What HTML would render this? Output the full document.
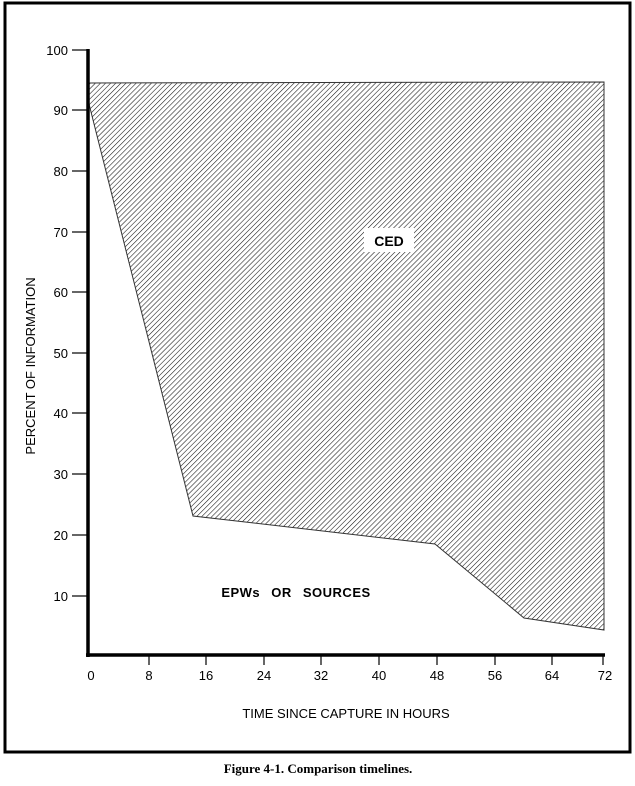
<!DOCTYPE html>
<html><head><style>
body{margin:0;background:#fff;width:635px;height:781px;overflow:hidden;font-family:"Liberation Sans",Arial,sans-serif}
</style></head><body>
<svg width="635" height="781" viewBox="0 0 635 781" xmlns="http://www.w3.org/2000/svg">
<defs>
<pattern id="h" patternUnits="userSpaceOnUse" width="3.6" height="4" patternTransform="rotate(45)">
<line x1="0" y1="0" x2="0" y2="4" stroke="#111" stroke-width="1.1"/>
</pattern>
</defs>
<rect x="5" y="3" width="625" height="749" fill="none" stroke="#000" stroke-width="3"/>
<polygon points="88,83 604,82 604,630 524,618 435,544 193,516 88,100" fill="url(#h)" stroke="#333" stroke-width="1"/>
<rect x="364" y="228" width="50" height="24" fill="#fff"/>
<text x="389" y="246" font-size="14" font-weight="bold" text-anchor="middle">CED</text>
<text x="296" y="597" font-size="13" font-weight="bold" text-anchor="middle" letter-spacing="0.5" word-spacing="7">EPWs OR SOURCES</text>
<line x1="88" y1="49" x2="88" y2="657" stroke="#000" stroke-width="3.5"/>
<line x1="86" y1="655" x2="605" y2="655" stroke="#000" stroke-width="3.5"/>
<g stroke="#000" stroke-width="1.2">
<line x1="72" y1="50" x2="88" y2="50"/><line x1="72" y1="110" x2="88" y2="110"/>
<line x1="72" y1="171" x2="88" y2="171"/><line x1="72" y1="232" x2="88" y2="232"/>
<line x1="72" y1="292" x2="88" y2="292"/><line x1="72" y1="353" x2="88" y2="353"/>
<line x1="72" y1="413" x2="88" y2="413"/><line x1="72" y1="474" x2="88" y2="474"/>
<line x1="72" y1="535" x2="88" y2="535"/><line x1="72" y1="596" x2="88" y2="596"/>
<line x1="149" y1="655" x2="149" y2="665"/><line x1="206" y1="655" x2="206" y2="665"/>
<line x1="264" y1="655" x2="264" y2="665"/><line x1="321" y1="655" x2="321" y2="665"/>
<line x1="379" y1="655" x2="379" y2="665"/><line x1="437" y1="655" x2="437" y2="665"/>
<line x1="495" y1="655" x2="495" y2="665"/><line x1="552" y1="655" x2="552" y2="665"/>
<line x1="603" y1="655" x2="603" y2="665"/>
</g>
<g font-size="13" text-anchor="end">
<text x="68" y="55">100</text><text x="68" y="115">90</text><text x="68" y="176">80</text>
<text x="68" y="237">70</text><text x="68" y="297">60</text><text x="68" y="358">50</text>
<text x="68" y="418">40</text><text x="68" y="479">30</text><text x="68" y="540">20</text>
<text x="68" y="601">10</text>
</g>
<g font-size="13" text-anchor="middle">
<text x="91" y="680">0</text><text x="149" y="680">8</text><text x="206" y="680">16</text>
<text x="264" y="680">24</text><text x="321" y="680">32</text><text x="379" y="680">40</text>
<text x="437" y="680">48</text><text x="495" y="680">56</text><text x="552" y="680">64</text>
<text x="605" y="680">72</text>
</g>
<text x="346" y="718" font-size="13" text-anchor="middle">TIME SINCE CAPTURE IN HOURS</text>
<text transform="translate(35,366) rotate(-90)" font-size="13" text-anchor="middle">PERCENT OF INFORMATION</text>
<text x="318" y="773" font-size="13" font-weight="bold" text-anchor="middle" font-family="Liberation Serif,serif">Figure 4-1.  Comparison timelines.</text>
</svg>
</body></html>
